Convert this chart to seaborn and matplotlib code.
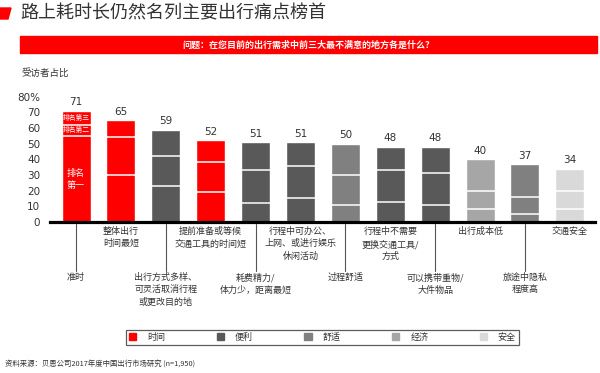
import matplotlib
matplotlib.use("Agg")
import matplotlib.pyplot as plt
import matplotlib.transforms as mtransforms
from matplotlib.patches import Patch, Polygon, Rectangle
import pandas as pd
import seaborn as sns

# chart data
categories = ["准时", "整体出行\n时间最短", "出行方式多样、\n可灵活取消行程\n或更改目的地",
              "提前准备或等候\n交通工具的时间短", "耗费精力/\n体力少，距离最短",
              "行程中可办公、\n上网、或进行娱乐\n休闲活动", "过程舒适",
              "行程中不需要\n更换交通工具/\n方式", "可以携带重物/\n大件物品",
              "出行成本低", "旅途中隐私\n程度高", "交通安全"]
groups = ["时间", "时间", "便利", "时间", "便利", "便利", "舒适", "便利", "便利", "经济", "舒适", "安全"]
totals = [71, 65, 59, 52, 51, 51, 50, 48, 48, 40, 37, 34]
rank1 = [55, 30, 23, 19, 12, 15, 11, 13, 11, 8, 5, 8]
rank2 = [7, 24, 19, 19, 21, 21, 19, 20, 20, 12, 11, 12]
yticks = [0, 10, 20, 30, 40, 50, 60, 70, 80]
ytick_labels = ["0", "10", "20", "30", "40", "50", "60", "70", "80%"]
legend_names = ["时间", "便利", "舒适", "经济", "安全"]
colors = {"时间": "#FF0000", "便利": "#595959", "舒适": "#808080", "经济": "#A6A6A6", "安全": "#D9D9D9"}

sns.set_style("white")
plt.rcParams['font.family'] = ['Noto Sans CJK SC', 'DejaVu Sans']

W, H = 600, 373
fig = plt.figure(figsize=(6, 3.73), dpi=100)
ax = fig.add_axes([50 / W, (H - 222) / H, 545 / W, (222 - 96.6) / H])

df = pd.DataFrame({"cat": categories, "group": groups, "total": totals})
bw = 0.646
sns.barplot(data=df, x="cat", y="total", hue="group", palette=colors, dodge=False,
            width=bw, legend=False, order=categories, ax=ax, saturation=1)

# white lines splitting each bar into rank 1 / 2 / 3
for i in range(len(totals)):
    for b in (rank1[i], rank1[i] + rank2[i]):
        ax.hlines(b, i - bw / 2, i + bw / 2, color="white", lw=1.1, zorder=3)
    ax.annotate(str(totals[i]), (i, totals[i]), xytext=(0, 6), textcoords="offset points",
                ha="center", va="center", fontsize=7.5, color="#333333",
                family=["DejaVu Sans"])

# rank annotations on the first bar
ax.text(0, (totals[0] + rank1[0] + rank2[0]) / 2, "排名第三", color="white", fontsize=4.9,
        ha="center", va="center")
ax.text(0, rank1[0] + rank2[0] / 2, "排名第二", color="white", fontsize=4.9,
        ha="center", va="center")
ax.text(0, 27, "排名\n第一", color="white", fontsize=6.5, ha="center", va="center",
        linespacing=1.5)

ax.set_xlim(-0.58, 11.56)
ax.set_ylim(0, 80)
ax.set_yticks(yticks)
ax.set_yticklabels(ytick_labels, fontsize=7.5, color="#333333", family=["DejaVu Sans"])
ax.tick_params(axis="y", length=0, pad=7)
ax.set_xticks([])
ax.set_xlabel("")
ax.set_ylabel("")
for s in ["left", "right", "top"]:
    ax.spines[s].set_visible(False)
ax.spines["bottom"].set_linewidth(2.3)
ax.spines["bottom"].set_color("black")
ax.spines["bottom"].set_zorder(5)

# category labels under the axis, alternating heights with leader lines
tr = mtransforms.blended_transform_factory(ax.transData, fig.transFigure)
for i, lab in enumerate(categories):
    if i % 2 == 0:
        ax.plot([i, i], [(H - 224) / H, (H - 271) / H], color="#555555", lw=0.8,
                transform=tr, clip_on=False)
        y = (H - 273) / H
    else:
        y = (H - 227) / H
    ax.text(i, y, lab, transform=tr, ha="center", va="top", fontsize=6.5,
            color="#333333", linespacing=1.45, clip_on=False)

# title, red marker, question banner
fig.patches.append(Polygon([(0, (H - 8) / H), (11 / W, (H - 8) / H), (8 / W, (H - 19) / H),
                            (0, (H - 19) / H)], closed=True, transform=fig.transFigure,
                           color="#FF0000"))
fig.text(20 / W, (H - 13.5) / H, "路上耗时长仍然名列主要出行痛点榜首", fontsize=13,
         color="#333333", va="center", ha="left", weight="light")
fig.patches.append(Rectangle((20 / W, (H - 53) / H), 577 / W, 17 / H, transform=fig.transFigure,
                             color="#FF0000"))
fig.text(308 / W, (H - 45) / H, "问题：在您目前的出行需求中前三大最不满意的地方各是什么？",
         fontsize=6.5, color="white", weight="bold", ha="center", va="center")
fig.text(21 / W, (H - 73) / H, "受访者占比", fontsize=6.8, color="#333333", va="center")

# legend
handles = [Patch(color=colors[n]) for n in legend_names]
leg = fig.legend(handles, legend_names, loc="center", ncol=5, mode="expand",
                 bbox_to_anchor=(126 / W, (H - 346) / H, 393 / W, 17 / H),
                 bbox_transform=fig.transFigure, frameon=True, fancybox=False,
                 fontsize=6.5, handlelength=0.8, handleheight=0.8, borderaxespad=0,
                 borderpad=0.35, handletextpad=1.2)
leg.get_frame().set_edgecolor("#333333")
leg.get_frame().set_linewidth(0.9)
for t in leg.get_texts():
    t.set_color("#333333")

fig.text(5 / W, (H - 365) / H, "资料来源：贝恩公司2017年度中国出行市场研究 (n=1,950)",
         fontsize=5.3, color="#333333", va="center")

fig.savefig("out.png", dpi=100)
